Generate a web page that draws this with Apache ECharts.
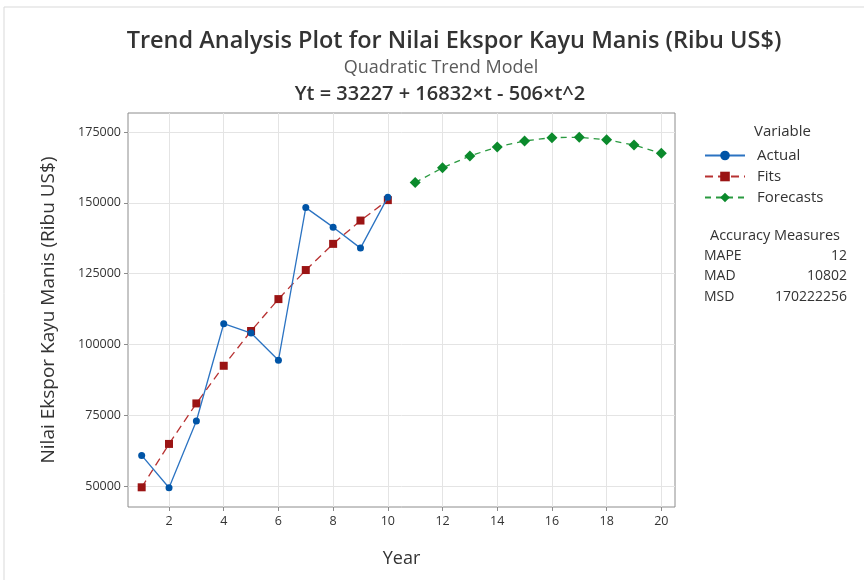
<!DOCTYPE html>
<html>
<head>
<meta charset="utf-8">
<script src="https://cdn.jsdelivr.net/npm/echarts@6/dist/echarts.min.js"></script>
<style>html,body{margin:0;padding:0;background:#fff}#c{width:864px;height:580px}</style>
</head>
<body>
<div id="c"></div>
<script>
// ---- data ----
var years = [1,2,3,4,5,6,7,8,9,10];
var actual = [60800, 49400, 72950, 107300, 104000, 94400, 148300, 141400, 134000, 152000];
var fits = [49553, 64867, 79169, 92459, 104737, 116003, 126257, 135499, 143729, 150947];
var forecastYears = [11,12,13,14,15,16,17,18,19,20];
var forecasts = [157153, 162347, 166529, 169699, 171857, 173003, 173137, 172259, 170369, 167467];
var xTicks = [2,4,6,8,10,12,14,16,18,20];
var yTicks = [50000,75000,100000,125000,150000,175000];
var accuracyNames = ['MAPE','MAD','MSD'];
var accuracyValues = ['12','10802','170222256'];

var FONT = '"Open Sans", "Noto Sans", sans-serif';
function pairs(xs, ys){ return xs.map(function(x,i){ return [x, ys[i]]; }); }

var chart = echarts.init(document.getElementById('c'), null, {renderer:'canvas'});

var accGraphics = [];
accuracyNames.forEach(function(n,i){
  accGraphics.push({type:'text', left:704, top:249 + i*20.5, style:{text:n, font:'14px '+FONT, fill:'#333'}});
  accGraphics.push({type:'text', right:17, top:249 + i*20.5, style:{text:accuracyValues[i], font:'14px '+FONT, fill:'#333', textAlign:'right'}});
});

var option = {
  backgroundColor:'#fff',
  animation:false,
  title:[
    {text:'Trend Analysis Plot for Nilai Ekspor Kayu Manis (Ribu US$)', left:449, top:24, textAlign:'center',
     textStyle:{fontFamily:FONT, fontSize:23.5, fontWeight:600, color:'#333'}},
    {text:'Quadratic Trend Model', left:436, top:54, textAlign:'center',
     textStyle:{fontFamily:FONT, fontSize:18, fontWeight:'normal', color:'#5a5a5a'}},
    {text:'Yt = 33227 + 16832×t - 506×t^2', left:435, top:79, textAlign:'center',
     textStyle:{fontFamily:FONT, fontSize:20, fontWeight:600, color:'#333'}}
  ],
  grid:{left:128, right:189, top:113, bottom:73, show:true, borderColor:'#8c8c8c', borderWidth:1, containLabel:false},
  xAxis:{
    type:'value', min:0.5, max:20.5,
    name:'Year', nameLocation:'middle', nameGap:43,
    nameTextStyle:{fontFamily:FONT, fontSize:18, color:'#333'},
    axisLine:{show:false},
    axisTick:{show:true, length:4, lineStyle:{color:'#8c8c8c'}, customValues:xTicks},
    axisLabel:{customValues:xTicks, fontFamily:FONT, fontSize:12.5, color:'#333', margin:8},
    splitLine:{show:true, lineStyle:{color:'#e4e4e4', width:1}}
  },
  yAxis:{
    type:'value', min:42600, max:181700,
    name:'Nilai Ekspor Kayu Manis (Ribu US$)', nameLocation:'middle', nameGap:70,
    nameTextStyle:{fontFamily:FONT, fontSize:19, color:'#333'},
    axisLine:{show:false},
    axisTick:{show:true, length:4, lineStyle:{color:'#8c8c8c'}, customValues:yTicks},
    axisLabel:{customValues:yTicks, fontFamily:FONT, fontSize:12.5, color:'#333', margin:7,
      formatter:function(v){ return String(v); }},
    splitLine:{show:true, lineStyle:{color:'#e4e4e4', width:1}}
  },
  legend:{
    orient:'vertical', left:704, top:148, padding:0, itemWidth:40, itemHeight:12, itemGap:6,
    textStyle:{fontFamily:FONT, fontSize:15, color:'#333', padding:[0,0,0,7]},
    data:['Actual','Fits','Forecasts']
  },
  graphic:[
    {type:'line', shape:{x1:4, y1:7, x2:864, y2:7}, style:{stroke:'#d9d9d9', lineWidth:1}},
    {type:'line', shape:{x1:4, y1:7, x2:4, y2:580}, style:{stroke:'#d9d9d9', lineWidth:1}},
    {type:'text', left:754, top:124, style:{text:'Variable', font:'15px '+FONT, fill:'#333'}},
    {type:'text', left:710, top:228, style:{text:'Accuracy Measures', font:'14.5px '+FONT, fill:'#333'}}
  ].concat(accGraphics),
  series:[
    {name:'Actual', type:'line', data:pairs(years, actual), symbol:'circle', symbolSize:7,
     itemStyle:{color:'#0054a6'}, lineStyle:{color:'#2b73c2', width:1.3}, clip:false, z:3},
    {name:'Fits', type:'line', data:pairs(years, fits), symbol:'rect', symbolSize:8,
     itemStyle:{color:'#9b1414'}, lineStyle:{color:'#b83232', width:1.3, type:[8,5]}, clip:false, z:2},
    {name:'Forecasts', type:'line', data:pairs(forecastYears, forecasts), symbol:'diamond', symbolSize:11,
     itemStyle:{color:'#0b8a2c'}, lineStyle:{color:'#2a9a40', width:1.3, type:[6,5]}, clip:false, z:2}
  ]
};
chart.setOption(option);
</script>
</body>
</html>
